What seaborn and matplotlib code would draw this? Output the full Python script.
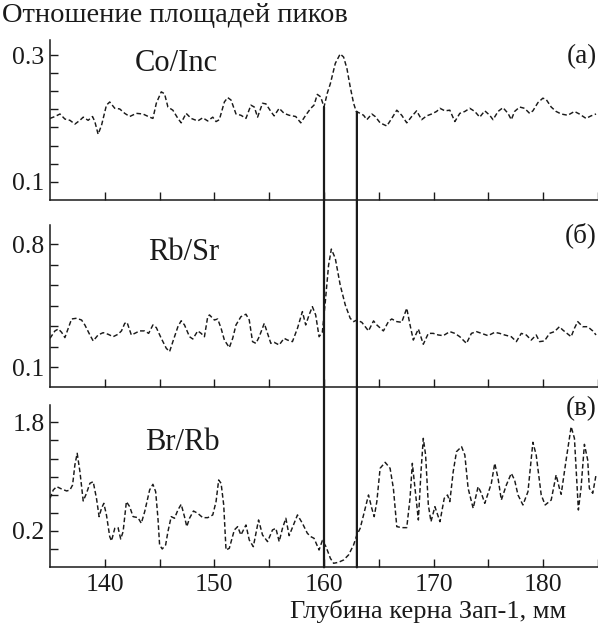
import numpy as np
import matplotlib
matplotlib.use("Agg")
import matplotlib.pyplot as plt
from matplotlib.patches import ConnectionPatch
import seaborn as sns

# Panel (а): Co/Inc
depth_a = [135.0, 135.45, 135.91, 136.36, 136.82, 137.27, 137.73, 138.03, 138.48, 138.88,
           139.09, 139.39, 139.70, 140.15, 140.45, 140.91, 141.36, 141.82, 142.27, 142.88,
           143.48, 144.09, 144.39, 144.70, 145.15, 145.45, 145.76, 146.21, 146.67, 146.97,
           147.42, 147.88, 148.48, 148.94, 149.39, 149.85, 150.15, 150.45, 150.91, 151.21,
           151.52, 151.97, 152.42, 152.88, 153.33, 153.64, 153.94, 154.39, 154.70, 155.15,
           155.45, 155.91, 156.36, 156.82, 157.42, 157.88, 158.33, 158.79, 159.09, 159.39,
           159.70, 160.0, 160.3, 160.58, 161.03, 161.48, 161.79, 162.09, 162.39, 162.70,
           162.94, 163.30, 163.61, 163.91, 164.36, 164.67, 165.12, 165.73, 166.18, 166.64,
           167.09, 167.55, 168.0, 168.45, 168.91, 169.36, 169.82, 170.27, 170.58, 171.03,
           171.48, 171.94, 172.39, 172.85, 173.30, 173.76, 174.21, 174.67, 175.12, 175.42,
           175.88, 176.33, 176.79, 177.09, 177.39, 177.85, 178.30, 178.76, 179.06, 179.52,
           179.97, 180.27, 180.73, 181.18, 181.64, 182.24, 182.85, 183.30, 183.91, 184.36,
           184.82]
co_inc = [0.200, 0.203, 0.207, 0.199, 0.197, 0.191, 0.197, 0.202, 0.197, 0.203,
          0.195, 0.175, 0.189, 0.221, 0.226, 0.216, 0.215, 0.208, 0.203, 0.208,
          0.207, 0.202, 0.200, 0.224, 0.242, 0.239, 0.218, 0.213, 0.200, 0.193,
          0.208, 0.200, 0.196, 0.201, 0.196, 0.202, 0.195, 0.198, 0.226, 0.233,
          0.229, 0.207, 0.205, 0.200, 0.221, 0.218, 0.202, 0.224, 0.223, 0.211,
          0.204, 0.216, 0.208, 0.205, 0.203, 0.193, 0.205, 0.216, 0.221, 0.238,
          0.234, 0.218, 0.240, 0.255, 0.287, 0.302, 0.297, 0.279, 0.250, 0.224,
          0.211, 0.208, 0.205, 0.198, 0.207, 0.203, 0.193, 0.188, 0.200, 0.213,
          0.205, 0.193, 0.203, 0.212, 0.198, 0.204, 0.207, 0.211, 0.216, 0.212,
          0.213, 0.195, 0.208, 0.211, 0.216, 0.211, 0.202, 0.212, 0.205, 0.198,
          0.211, 0.217, 0.208, 0.198, 0.211, 0.218, 0.216, 0.208, 0.212, 0.225,
          0.232, 0.230, 0.218, 0.211, 0.207, 0.205, 0.211, 0.207, 0.200, 0.204,
          0.207]

# Panel (б): Rb/Sr
depth_b = [135.0, 135.45, 135.76, 136.06, 136.36, 136.67, 136.97, 137.42, 137.88, 138.18,
           138.64, 138.94, 139.39, 139.85, 140.30, 140.76, 141.21, 141.52, 141.82, 142.03,
           142.42, 142.73, 143.18, 143.64, 144.0, 144.39, 144.70, 145.15, 145.61, 145.91,
           146.21, 146.67, 146.97, 147.27, 147.73, 148.03, 148.48, 148.79, 149.09, 149.39,
           149.55, 150.0, 150.30, 150.61, 150.91, 151.36, 151.67, 151.97, 152.42, 152.88,
           153.18, 153.48, 153.79, 154.09, 154.55, 154.85, 155.15, 155.45, 155.91, 156.36,
           156.67, 157.12, 157.58, 158.03, 158.33, 158.64, 158.94, 159.24, 159.55, 159.85,
           160.12, 160.42, 160.67, 161.03, 161.48, 161.94, 162.39, 162.70, 163.0, 163.45,
           163.76, 164.06, 164.52, 164.82, 165.42, 165.88, 166.18, 166.64, 167.09, 167.55,
           167.85, 168.15, 168.61, 169.06, 169.52, 169.97, 170.42, 170.88, 171.48, 171.94,
           172.39, 173.0, 173.45, 173.91, 174.36, 174.97, 175.58, 176.03, 176.48, 177.09,
           177.55, 178.0, 178.45, 178.91, 179.36, 179.67, 180.12, 180.58, 181.03, 181.48,
           181.79, 182.55, 182.85, 183.15, 183.61, 184.06, 184.52, 184.82]
rb_sr = [0.265, 0.307, 0.318, 0.299, 0.269, 0.322, 0.375, 0.379, 0.369, 0.341,
         0.284, 0.250, 0.284, 0.297, 0.288, 0.274, 0.288, 0.307, 0.350, 0.356,
         0.284, 0.293, 0.307, 0.307, 0.293, 0.341, 0.326, 0.265, 0.208, 0.189,
         0.246, 0.331, 0.365, 0.341, 0.274, 0.261, 0.307, 0.293, 0.274, 0.388,
         0.398, 0.369, 0.375, 0.322, 0.255, 0.212, 0.265, 0.341, 0.388, 0.402,
         0.369, 0.246, 0.236, 0.274, 0.350, 0.293, 0.236, 0.242, 0.227, 0.265,
         0.255, 0.246, 0.322, 0.417, 0.341, 0.398, 0.445, 0.398, 0.274, 0.300,
         0.474, 0.682, 0.773, 0.720, 0.568, 0.455, 0.379, 0.360, 0.369, 0.356,
         0.331, 0.307, 0.364, 0.341, 0.307, 0.360, 0.375, 0.360, 0.356, 0.436,
         0.341, 0.255, 0.318, 0.231, 0.293, 0.293, 0.284, 0.280, 0.303, 0.293,
         0.274, 0.236, 0.293, 0.303, 0.293, 0.280, 0.299, 0.293, 0.284, 0.274,
         0.246, 0.293, 0.284, 0.255, 0.284, 0.246, 0.250, 0.293, 0.303, 0.331,
         0.312, 0.274, 0.322, 0.360, 0.331, 0.331, 0.307, 0.284]

# Panel (в): Br/Rb
depth_c = [135.0, 135.30, 135.61, 136.06, 136.52, 136.82, 137.06, 137.27, 137.48, 137.73,
           138.03, 138.33, 138.64, 138.94, 139.24, 139.48, 139.70, 139.91, 140.15, 140.45,
           140.61, 140.91, 141.21, 141.45, 141.67, 141.97, 142.27, 142.58, 143.03, 143.33,
           143.64, 144.09, 144.39, 144.64, 144.85, 145.0, 145.24, 145.55, 145.76, 146.06,
           146.36, 146.67, 146.97, 147.27, 147.48, 147.73, 148.09, 148.48, 148.94, 149.39,
           149.85, 150.15, 150.39, 150.61, 150.85, 151.06, 151.36, 151.82, 152.12, 152.42,
           152.88, 153.18, 153.55, 154.03, 154.39, 154.85, 155.30, 155.61, 155.91, 156.21,
           156.52, 156.82, 157.27, 157.58, 158.03, 158.48, 158.79, 159.09, 159.55, 159.85,
           160.18, 160.58, 160.88, 161.33, 161.79, 162.24, 162.70, 163.0, 163.30, 163.61,
           164.06, 164.36, 164.58, 164.82, 165.12, 165.58, 166.03, 166.33, 166.64, 167.09,
           167.55, 167.85, 168.06, 168.30, 168.61, 168.85, 169.06, 169.27, 169.52, 169.76,
           170.12, 170.58, 170.97, 171.27, 171.48, 171.79, 172.09, 172.55, 172.85, 173.15,
           173.61, 174.06, 174.36, 174.67, 174.97, 175.27, 175.58, 175.88, 176.18, 176.64,
           177.09, 177.39, 177.70, 178.15, 178.61, 179.06, 179.36, 179.82, 180.18, 180.73,
           181.18, 181.48, 181.64, 182.09, 182.55, 182.85, 183.0, 183.21, 183.45, 183.76,
           184.06, 184.21, 184.52, 184.82]
br_rb = [0.681, 0.804, 0.853, 0.818, 0.789, 0.804, 0.877, 1.172, 1.344, 1.074,
         0.642, 0.755, 0.902, 0.926, 0.681, 0.411, 0.534, 0.607, 0.436, 0.117,
         0.053, 0.239, 0.249, 0.082, 0.190, 0.632, 0.558, 0.411, 0.396, 0.313,
         0.485, 0.804, 0.887, 0.779, 0.387, -0.006, -0.065, -0.006, 0.190, 0.411,
         0.387, 0.509, 0.593, 0.411, 0.264, 0.387, 0.494, 0.460, 0.396, 0.396,
         0.436, 0.632, 0.951, 0.902, 0.583, -0.080, -0.055, 0.215, 0.264, 0.141,
         0.288, 0.067, -0.031, 0.362, 0.141, 0.043, 0.215, 0.239, 0.043, 0.239,
         0.387, 0.131, 0.313, 0.436, 0.313, 0.166, 0.117, 0.092, -0.080, 0.060,
         -0.031, -0.202, -0.276, -0.261, -0.227, -0.153, -0.006, 0.141, 0.239, 0.436,
         0.730, 0.534, 0.411, 0.632, 1.123, 1.211, 1.123, 0.828, 0.264, 0.249,
         0.249, 0.681, 1.196, 0.828, 0.362, 1.074, 1.564, 1.319, 0.583, 0.337,
         0.558, 0.337, 0.681, 0.730, 0.632, 1.074, 1.368, 1.442, 1.319, 0.828,
         0.534, 0.853, 0.755, 0.607, 0.755, 0.902, 1.196, 0.975, 0.656, 0.877,
         1.049, 0.951, 0.730, 0.583, 0.779, 1.506, 1.319, 0.730, 0.583, 0.656,
         1.025, 0.828, 0.740, 1.245, 1.736, 1.564, 1.123, 0.509, 0.828, 1.476,
         1.245, 0.828, 0.755, 1.025]

names = ["Co/Inc", "Rb/Sr", "Br/Rb"]
panel_tags = ["(а)", "(б)", "(в)"]
boundaries = [160, 163]
x_ticklabels = [140, 150, 160, 170, 180]

sns.set_style("ticks")
plt.rcParams['font.family'] = ['Liberation Serif', 'DejaVu Serif']
ink = "#1a1a1a"

fig = plt.figure(figsize=(5.98, 6.24), dpi=100)
left = 50 / 598
ax_a = fig.add_axes([left, 1 - 200 / 624, 1 - left, 160 / 624])
ax_b = fig.add_axes([left, 1 - 387.3 / 624, 1 - left, 162.3 / 624])
ax_c = fig.add_axes([left, 1 - 567.3 / 624, 1 - left, 162.3 / 624])
axes = [ax_a, ax_b, ax_c]

series = [(depth_a, co_inc), (depth_b, rb_sr), (depth_c, br_rb)]
ylims = [(0.071, 0.324), (-0.014, 0.91), (-0.335, 2.055)]
yticks = [np.linspace(0.1, 0.3, 8),
          np.linspace(0.1, 0.8, 7),
          np.append(np.linspace(0.2, 1.8, 7), 0.2 - 1.6 / 6)]
ylabels_keep = [(0.1, 0.3), (0.1, 0.8), (0.2, 1.8)]
name_pos = [(0.23, 0.856), (0.243, 0.828), (0.241, 0.766)]
tag_pos = [0.894, 0.94, 0.98]

for i, ax in enumerate(axes):
    x, y = series[i]
    sns.lineplot(x=x, y=y, ax=ax, color=ink, linewidth=1.05, sort=False,
                 estimator=None, linestyle=(0, (3.2, 1.8)))
    ax.set_xlim(135, 184.82)
    ax.set_ylim(*ylims[i])
    ax.set_xticks(np.arange(140, 186, 5))
    if i == 2:
        ax.set_xticklabels([str(int(t)) if t in x_ticklabels else "" for t in ax.get_xticks()])
    else:
        ax.set_xticklabels([])
    ax.set_yticks(yticks[i])
    ax.set_yticklabels([f"{t:.1f}" if any(abs(t - k) < 1e-6 for k in ylabels_keep[i]) else ""
                        for t in yticks[i]])
    ax.tick_params(direction='in', length=6, width=1.0, colors=ink, labelsize=18.5,
                   labelcolor=ink)
    ax.tick_params(axis='x', pad=5)
    ax.tick_params(axis='y', pad=4)
    for s in ['top', 'right']:
        ax.spines[s].set_visible(False)
    for s in ['left', 'bottom']:
        ax.spines[s].set_linewidth(1.1)
        ax.spines[s].set_color(ink)
    ax.set_xlabel("")
    ax.set_ylabel("")
    ax.patch.set_alpha(0)
    ax.text(*name_pos[i], names[i], transform=ax.transAxes, ha='center', va='center',
            fontsize=22, color=ink)
    ax.text(0.998, tag_pos[i], panel_tags[i], transform=ax.transAxes, ha='right',
            va='center', fontsize=19.5, color=ink)

# vertical boundary lines from the Co/Inc curve down to the bottom panel
for xb in boundaries:
    top = np.interp(xb, depth_a, co_inc)
    con = ConnectionPatch(xyA=(xb, top), coordsA=ax_a.transData,
                          xyB=(xb, 0), coordsB=ax_c.get_xaxis_transform(),
                          color=ink, linewidth=1.6)
    fig.add_artist(con)

fig.text(2 / 598, 1 - 15 / 624, "Отношение площадей пиков", ha='left', va='center',
         fontsize=20.5, color=ink)
fig.text(566 / 598, 1 - 611 / 624, "Глубина керна Зап-1, мм", ha='right', va='center',
         fontsize=19, color=ink)

fig.savefig("out.png", dpi=100)
